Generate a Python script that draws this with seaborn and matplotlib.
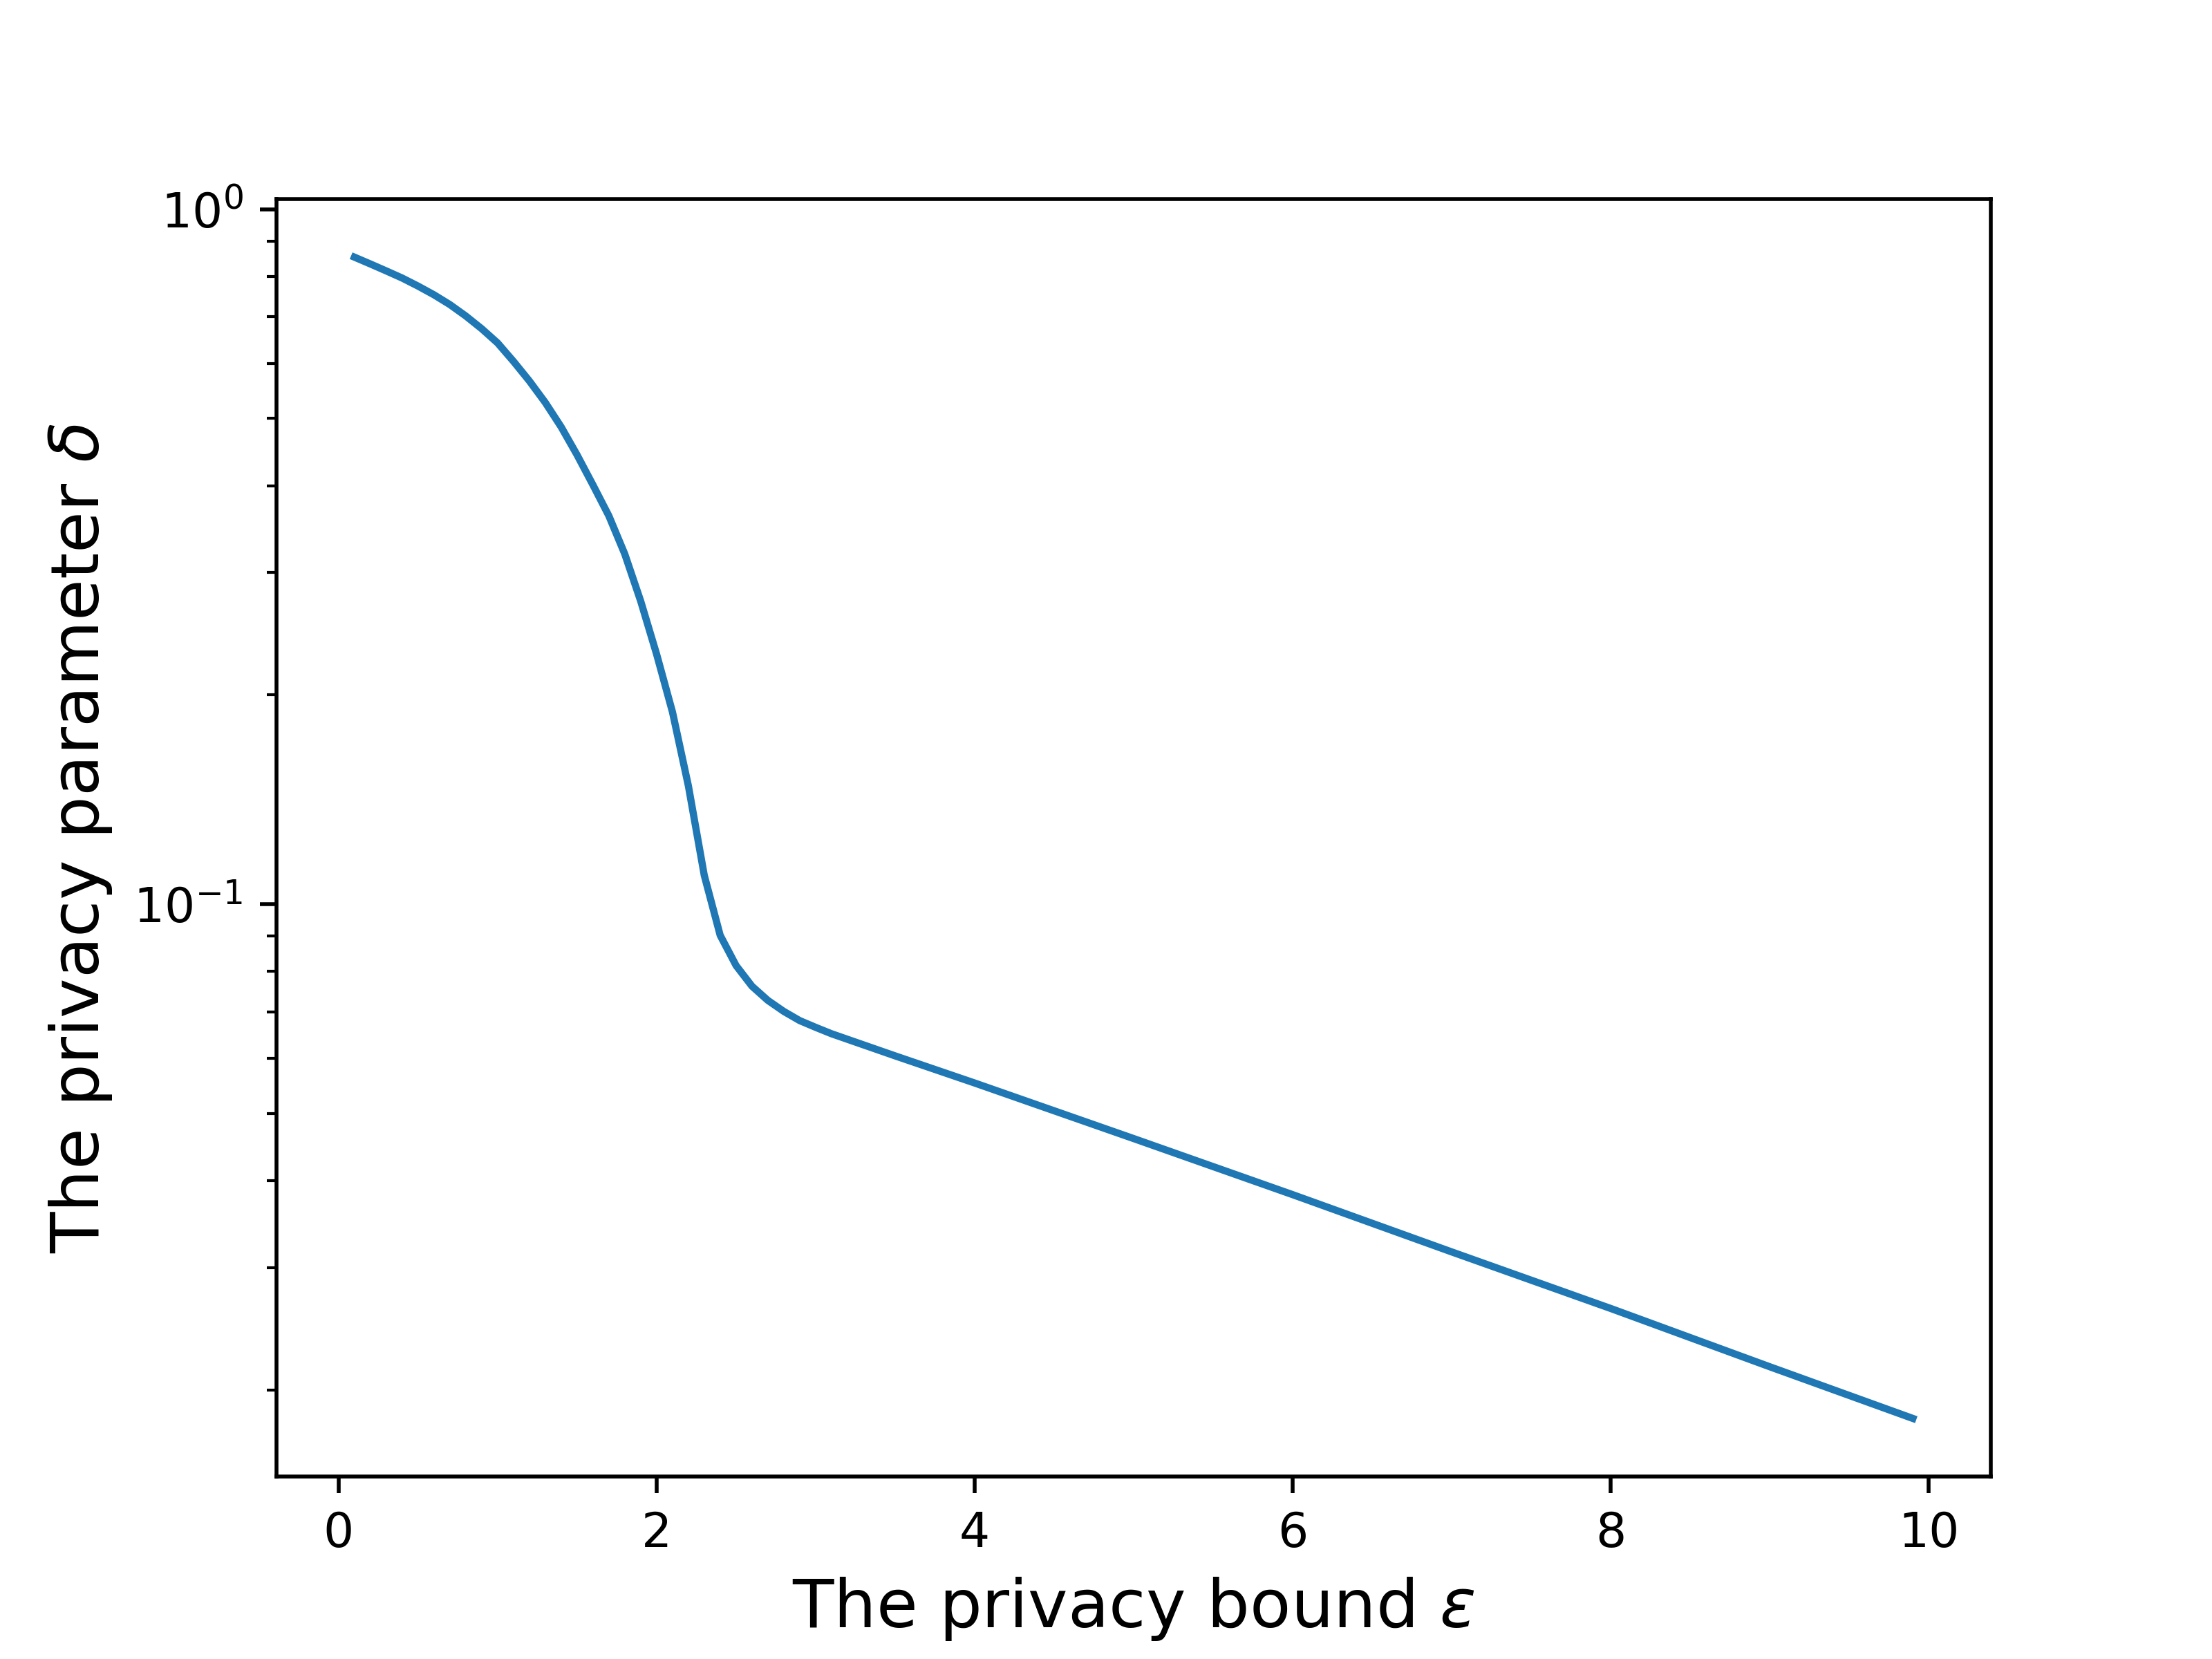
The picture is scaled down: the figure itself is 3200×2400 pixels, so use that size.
import numpy as np
import pandas as pd
import seaborn as sns
import matplotlib.pyplot as plt

# privacy bound epsilon (x) and privacy parameter delta (y)
eps_curve = [0.1, 0.2, 0.3, 0.4, 0.5, 0.6, 0.7, 0.8, 0.9, 1.0,
             1.1, 1.2, 1.3, 1.4, 1.5, 1.6, 1.7, 1.8, 1.9, 2.0,
             2.1, 2.2, 2.3, 2.4, 2.5, 2.6, 2.7, 2.8, 2.9, 3.0, 3.1]
delta_curve = [0.853, 0.834, 0.815, 0.796, 0.775, 0.753, 0.729, 0.702, 0.673, 0.642,
               0.604, 0.566, 0.527, 0.486, 0.443, 0.401, 0.362, 0.319, 0.273, 0.229,
               0.189, 0.148, 0.110, 0.0902, 0.0816, 0.0762, 0.0727, 0.0701, 0.0680, 0.0665, 0.0651]
# the tail is straight on the log axis
eps_tail = [3.5, 4.0, 5.0, 6.0, 7.0, 8.0, 9.0, 9.9]
delta_tail = [0.0605, 0.0553, 0.0460, 0.0382, 0.0316, 0.0262, 0.0216, 0.0182]

xlabel = r"The privacy bound $\varepsilon$"
ylabel = r"The privacy parameter $\delta$"


def plot_delta(eps, delta):
    df = pd.DataFrame({"eps": eps, "delta": delta})
    fig, ax = plt.subplots(figsize=(6.4, 4.8), dpi=500)
    sns.lineplot(data=df, x="eps", y="delta", color="#1f77b4", linewidth=1.5,
                 solid_capstyle="projecting", ax=ax)
    ax.set_yscale("log")
    ax.set_xlabel(xlabel, fontsize=14)
    ax.set_ylabel(ylabel, fontsize=14)
    plt.savefig("out.png", dpi=500)
    plt.close()


if __name__ == "__main__":
    plot_delta(eps_curve + eps_tail, delta_curve + delta_tail)
